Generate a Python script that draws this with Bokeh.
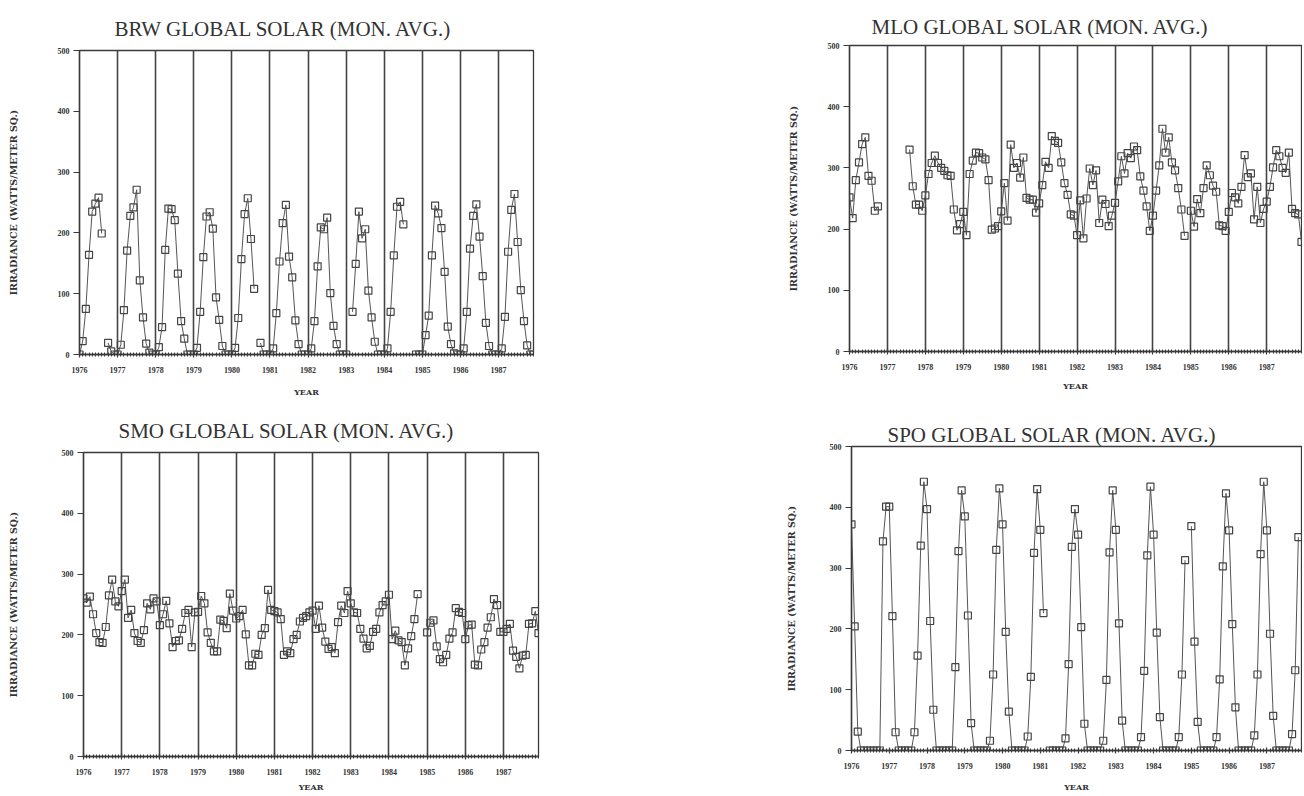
import numpy as np
from bokeh.plotting import figure
from bokeh.layouts import column, row
from bokeh.models import FixedTicker, Range1d
from bokeh.embed import file_html
from bokeh.resources import INLINE

YEARS = [1976, 1977, 1978, 1979, 1980, 1981, 1982, 1983, 1984, 1985, 1986, 1987]
YEAR_LABELS = ["1976", "1977", "1978", "1979", "1980", "1981", "1982", "1983",
               "1984", "1985", "1986", "1987"]
Y_TICKS = [0, 100, 200, 300, 400, 500]

# monthly means, one row per year (Jan..Dec); None = no data
brw = [
    [0, 22, 75, 164, 235, 248, 258, 199, None, 19, 5, 0],
    [0, 16, 73, 171, 228, 242, 271, 122, 61, 18, 3, 0],
    [0, 12, 45, 172, 240, 239, 221, 133, 55, 26, 0, 0],
    [0, 11, 70, 160, 227, 234, 207, 94, 57, 14, 0, 0],
    [0, 11, 60, 157, 231, 257, 190, 108, None, 19, 0, 0],
    [0, 10, 68, 153, 216, 246, 161, 127, 56, 17, 0, 0],
    [0, 10, 55, 145, 209, 206, 225, 101, 47, 17, 0, 0],
    [0, None, 70, 149, 235, 191, 206, 105, 61, 21, 0, 0],
    [0, 10, 70, 163, 243, 251, 214, None, None, None, 0, 0],
    [0, 32, 64, 163, 245, 232, 208, 136, 46, 17, 2, 0],
    [0, 10, 70, 174, 228, 247, 194, 129, 52, 14, 0, 0],
    [0, 10, 62, 169, 238, 264, 185, 106, 55, 15, 0, 0],
]
mlo = [
    [252, 218, 280, 309, 339, 350, 287, 279, 230, 237, None, None],
    [None, None, None, None, None, None, None, 330, 270, 240, 240, 230],
    [255, 290, 308, 320, 308, 300, 295, 288, 287, 232, 198, 208],
    [228, 190, 290, 312, 325, 324, 317, 314, 280, 199, 201, 205],
    [229, 275, 214, 338, 300, 308, 284, 317, 251, 248, 248, 227],
    [242, 272, 310, 300, 352, 344, 341, 309, 275, 256, 224, 222],
    [190, 247, 185, 250, 299, 272, 296, 210, 248, 241, 205, 222],
    [243, 278, 319, 291, 324, 316, 335, 329, 286, 263, 237, 197],
    [222, 263, 304, 364, 325, 350, 309, 296, 267, 232, 189, None],
    [230, 204, 249, 226, 267, 304, 288, 271, 261, 206, 205, 197],
    [228, 259, 252, 242, 269, 321, 285, 291, 216, 269, 210, 233],
    [245, 269, 301, 329, 319, 300, 292, 325, 233, 226, 224, 179],
]
smo = [
    [260, 253, 263, 234, 203, 188, 187, 213, 265, 291, 255, 247],
    [272, 291, 228, 241, 203, 190, 187, 208, 252, 242, 260, 255],
    [216, 234, 256, 219, 180, 190, 191, 210, 236, 241, 180, 237],
    [238, 264, 252, 204, 187, 173, 173, 225, 223, 211, 268, 240],
    [227, 231, 241, 201, 150, 150, 169, 167, 200, 211, 274, 241],
    [239, 237, 226, 167, 173, 170, 193, 200, 222, 228, 231, 237],
    [240, 210, 248, 212, 189, 177, 180, 170, 221, 248, 236, 272],
    [252, 237, 236, 210, 194, 178, 182, 205, 210, 237, 249, 255],
    [266, 193, 207, 191, 188, 150, 178, 198, 226, 267, None, None],
    [204, 220, 224, 181, 160, 155, 167, 194, 204, 244, 238, 236],
    [193, 216, 217, 151, 150, 176, 188, 212, 229, 259, 249, 205],
    [205, 210, 218, 174, 164, 145, 166, 167, 218, 219, 239, 203],
]
spo = [
    [372, 204, 31, 0, 0, 0, 0, 0, 0, 0, 344, 401],
    [401, 221, 30, 0, 0, 0, 0, 0, 30, 156, 337, 442],
    [397, 213, 67, 0, 0, 0, 0, 0, 0, 137, 328, 428],
    [385, 222, 45, 0, 0, 0, 0, 0, 16, 125, 330, 431],
    [372, 195, 64, 0, 0, 0, 0, 0, 23, 121, 325, 430],
    [363, 226, None, 0, 0, 0, 0, 0, 20, 142, 335, 397],
    [355, 203, 44, 0, 0, 0, 0, 0, 16, 116, 326, 428],
    [363, 209, 49, 0, 0, 0, 0, 0, 22, 131, 321, 434],
    [355, 194, 55, 0, 0, 0, 0, 0, 22, 125, 313, None],
    [369, 179, 47, 0, 0, 0, 0, 0, 22, 117, 303, 423],
    [362, 208, 71, 0, 0, 0, 0, 0, 25, 125, 323, 442],
    [362, 192, 57, 0, 0, 0, 0, 0, 27, 132, 351, None],
]

MONTH_X = [yr + m / 12.0 for yr in YEARS for m in range(12)]
X_END = YEARS[-1] + 11 / 12.0
INK = "#3a3a3a"


def flat(rows):
    return np.array([np.nan if v is None else float(v) for r in rows for v in r])


def panel(title, rows, width, height, mbl, mbr, mbt, mbb, t_off, t_stand,
          yl_stand, xl_stand, year_lines=True):
    p = figure(width=width, height=height,
               x_range=Range1d(YEARS[0], X_END), y_range=Range1d(0, 500),
               output_backend="svg", toolbar_location=None,
               min_border_left=mbl, min_border_right=mbr,
               min_border_top=mbt, min_border_bottom=mbb)
    p.title.text = title
    p.title.text_font = "Liberation Serif"
    p.title.text_font_size = "21px"
    p.title.text_font_style = "normal"
    p.title.text_color = "#333333"
    p.title.align = "left"
    p.title.vertical_align = "top"
    p.title.offset = t_off
    p.title.standoff = t_stand

    p.xaxis.ticker = FixedTicker(ticks=YEARS, minor_ticks=MONTH_X)
    p.xaxis.major_label_overrides = {y: s for y, s in zip(YEARS, YEAR_LABELS)}
    p.yaxis.ticker = FixedTicker(ticks=Y_TICKS)
    for ax in (p.xaxis, p.yaxis):
        ax.axis_line_color = INK
        ax.axis_line_width = 1.4
        ax.major_tick_line_color = INK
        ax.major_tick_line_width = 1.2
        ax.major_label_text_font = "Liberation Serif"
        ax.major_label_text_font_style = "bold"
        ax.major_label_text_font_size = "8px"
        ax.major_label_text_color = "#333333"
        ax.axis_label_text_font = "DejaVu Serif"
        ax.axis_label_text_font_style = "bold"
        ax.axis_label_text_font_size = "9.5px"
        ax.axis_label_text_color = "#333333"
    p.xaxis.axis_label_text_font_size = "8px"
    p.xaxis.axis_label = "YEAR"
    p.yaxis.axis_label = "IRRADIANCE (WATTS/METER SQ.)"
    p.xaxis.major_tick_in = 3
    p.xaxis.major_tick_out = 3
    p.xaxis.minor_tick_in = 2
    p.xaxis.minor_tick_out = 2
    p.xaxis.minor_tick_line_color = INK
    p.xaxis.major_label_standoff = 9
    p.xaxis.axis_label_standoff = xl_stand
    p.yaxis.major_tick_in = 0
    p.yaxis.major_tick_out = 6
    p.yaxis.minor_tick_line_color = None
    p.yaxis.major_label_standoff = 4
    p.yaxis.axis_label_standoff = yl_stand

    p.ygrid.grid_line_color = None
    if year_lines:
        p.xgrid.ticker = FixedTicker(ticks=YEARS[1:])
        p.xgrid.grid_line_color = "#444444"
        p.xgrid.grid_line_width = 1.6
    else:
        p.xgrid.grid_line_color = None

    p.outline_line_color = INK
    p.outline_line_width = 1.3
    p.background_fill_color = "white"
    p.border_fill_color = "white"

    y = flat(rows)
    p.line(MONTH_X, y, line_color="#555555", line_width=1)
    p.scatter(MONTH_X, y, marker="square", size=7, fill_color=None,
              line_color="#444444", line_width=1.2)
    return p


# page origin is (0,0); top row y 0..400, bottom row y 400..794
brw_p = panel("BRW GLOBAL SOLAR (MON. AVG.)", brw, 770, 400,
              79, 237, 50, 46, 35, 15, 36, 11)
mlo_p = panel("MLO GLOBAL SOLAR (MON. AVG.)", mlo, 532, 400,
              79, 1, 45, 49, 22, 10, 26, 8)
smo_p = panel("SMO GLOBAL SOLAR (MON. AVG.)", smo, 770, 394,
              83, 232, 52, 36, 35, 15, 40, 4)
spo_p = panel("SPO GLOBAL SOLAR (MON. AVG.)", spo, 532, 394,
              81, 1, 46, 42, 36, -5, 30, 10, year_lines=False)

layout = column(row(column(brw_p), column(mlo_p)),
                row(column(smo_p), column(spo_p)))

open("out.html", "w").write(file_html(layout, INLINE))
